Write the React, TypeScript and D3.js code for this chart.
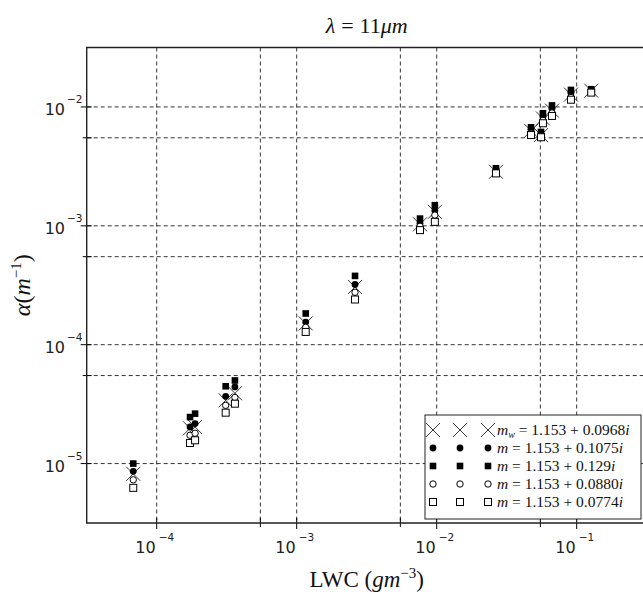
import React from 'react'
import * as d3 from 'd3'

// LWC (g m^-3) of each measurement
const lwc = [6.8e-5, 1.73e-4, 1.88e-4, 3.11e-4, 3.62e-4, 1.16e-3, 2.61e-3, 7.6e-3, 9.7e-3, 2.65e-2, 4.72e-2, 5.56e-2, 5.74e-2, 6.66e-2, 9.1e-2, 0.127]

// extinction alpha (m^-1) for each refractive index
const alphaMw = [8.2e-6, 1.98e-5, 2.03e-5, 3.4e-5, 3.9e-5, 1.51e-4, 3.06e-4, 1.03e-3, 1.31e-3, 2.85e-3, 6.3e-3, 5.8e-3, 8.0e-3, 9.3e-3, 1.27e-2, 1.37e-2]
const alpha1075 = [8.6e-6, 2.03e-5, 2.17e-5, 3.68e-5, 4.41e-5, 1.55e-4, 3.21e-4, 1.05e-3, 1.34e-3, 2.9e-3, 6.45e-3, 5.95e-3, 8.3e-3, 9.7e-3, 1.31e-2, 1.39e-2]
const alpha129 = [1.0e-5, 2.46e-5, 2.63e-5, 4.47e-5, 5.0e-5, 1.83e-4, 3.79e-4, 1.15e-3, 1.49e-3, 3.05e-3, 6.74e-3, 6.16e-3, 8.85e-3, 1.03e-2, 1.39e-2, 1.41e-2]
const alpha088 = [7.3e-6, 1.73e-5, 1.8e-5, 3.09e-5, 3.6e-5, 1.4e-4, 2.76e-4, 9.9e-4, 1.23e-3, 2.8e-3, 6.0e-3, 5.65e-3, 7.7e-3, 8.9e-3, 1.2e-2, 1.34e-2]
const alpha0774 = [6.25e-6, 1.49e-5, 1.57e-5, 2.68e-5, 3.19e-5, 1.28e-4, 2.4e-4, 9.2e-4, 1.08e-3, 2.76e-3, 5.8e-3, 5.56e-3, 7.29e-3, 8.4e-3, 1.15e-2, 1.32e-2]

const xMajor = [-4, -3, -2, -1]
const yMajor = [-5, -4, -3, -2]
const xMinor = [5.5e-4, 5.5e-3, 5.5e-2]
const yMinor = [5.5e-5, 5.5e-4, 5.5e-3]

const legendLabels = [
  { sym: 'x', sub: 'w', val: '0.0968' },
  { sym: 'dot', sub: '', val: '0.1075' },
  { sym: 'sq', sub: '', val: '0.129' },
  { sym: 'circ', sub: '', val: '0.0880' },
  { sym: 'osq', sub: '', val: '0.0774' }
]

const W = 643
const H = 594
const L = 86.7, R = 646.7, T = 47.5, B = 523

const Marker = ({ kind, x, y }: { kind: string; x: number; y: number }) => {
  if (kind === 'x') {
    const s = 7
    return (
      <g stroke="#222" strokeWidth={0.9}>
        <line x1={x - s} y1={y - s} x2={x + s} y2={y + s} />
        <line x1={x - s} y1={y + s} x2={x + s} y2={y - s} />
      </g>
    )
  }
  if (kind === 'dot') return <circle cx={x} cy={y} r={3.4} fill="#000" />
  if (kind === 'sq') return <rect x={x - 3.3} y={y - 3.3} width={6.6} height={6.6} fill="#000" />
  if (kind === 'circ') return <circle cx={x} cy={y} r={3.2} fill="#fff" stroke="#000" strokeWidth={1} />
  return <rect x={x - 3.5} y={y - 3.5} width={7} height={7} fill="#fff" stroke="#000" strokeWidth={1} />
}

const App = () => {
  const x = d3.scaleLog().domain([Math.pow(10, -4.5), Math.pow(10, -0.5)]).range([L, R])
  const y = d3.scaleLog().domain([Math.pow(10, -5.5), Math.pow(10, -1.5)]).range([B, T])

  const series = [
    { kind: 'x', vals: alphaMw },
    { kind: 'dot', vals: alpha1075 },
    { kind: 'sq', vals: alpha129 },
    { kind: 'circ', vals: alpha088 },
    { kind: 'osq', vals: alpha0774 }
  ]

  const xGrid = [...xMajor.map(e => Math.pow(10, e)), ...xMinor]
  const yGrid = [...yMajor.map(e => Math.pow(10, e)), ...yMinor]

  const serif = '"Liberation Serif", "DejaVu Serif", serif'
  const sans = '"DejaVu Sans", sans-serif'

  const lgX = 425, lgY = 415, lgW = 216, lgH = 104

  return (
    <svg width={W} height={H} style={{ position: 'absolute', left: 0, top: 0 }}>
      <rect width={W} height={H} fill="#fff" />
      {/* grid */}
      <g stroke="#000" strokeWidth={0.8} strokeDasharray="4,3">
        {xGrid.map((v, i) => (
          <line key={'gx' + i} x1={x(v)} x2={x(v)} y1={T} y2={B} />
        ))}
        {yGrid.map((v, i) => (
          <line key={'gy' + i} x1={L} x2={R} y1={y(v)} y2={y(v)} />
        ))}
      </g>
      {/* ticks */}
      <g stroke="#000" strokeWidth={1}>
        {xGrid.map((v, i) => (
          <line key={'tx' + i} x1={x(v)} x2={x(v)} y1={B - 5} y2={B + (i < 4 ? 6 : 4)} />
        ))}
        {yGrid.map((v, i) => (
          <line key={'ty' + i} x1={L - (i < 4 ? 6 : 4)} x2={L + 5} y1={y(v)} y2={y(v)} />
        ))}
      </g>
      {/* frame */}
      <path d={`M${R},${T}H${L}V${B}H${R}`} fill="none" stroke="#222" strokeWidth={1.4} />

      {/* data */}
      {series.map(s => (
        <g key={s.kind}>
          {lwc.map((v, i) => (
            <Marker key={i} kind={s.kind} x={x(v)} y={y(s.vals[i])} />
          ))}
        </g>
      ))}

      {/* x tick labels */}
      {xMajor.map(e => (
        <g key={'lx' + e} fontFamily={sans} fill="#222">
          <text x={x(Math.pow(10, e)) - 1} y={553} textAnchor="end" fontSize={16}>10</text>
          <text x={x(Math.pow(10, e)) + 2} y={541} fontSize={10.5}>{'\u2212' + -e}</text>
        </g>
      ))}
      {/* y tick labels */}
      {yMajor.map(e => (
        <g key={'ly' + e} fontFamily={sans} fill="#222">
          <text x={65} y={y(Math.pow(10, e)) + 8} textAnchor="end" fontSize={16}>10</text>
          <text x={67} y={y(Math.pow(10, e)) - 4} fontSize={10.5}>{'\u2212' + -e}</text>
        </g>
      ))}

      {/* title */}
      <text x={(L + R) / 2} y={33} textAnchor="middle" fontFamily={serif} fontSize={22} fill="#111">
        <tspan fontStyle="italic">λ</tspan>
        <tspan dx={6}>=</tspan>
        <tspan dx={6}>11</tspan>
        <tspan fontStyle="italic">μm</tspan>
      </text>
      {/* x label */}
      <text x={(L + R) / 2} y={587} textAnchor="middle" fontFamily={serif} fontSize={23} fill="#111">
        LWC (<tspan fontStyle="italic">gm</tspan>
        <tspan dy={-9} fontSize={15}>−3</tspan>
        <tspan dy={9}>)</tspan>
      </text>
      {/* y label */}
      <text transform={`translate(30,${(T + B) / 2}) rotate(-90)`} textAnchor="middle" fontFamily={serif} fontSize={24} fill="#111">
        <tspan fontStyle="italic">α</tspan>(<tspan fontStyle="italic">m</tspan>
        <tspan dy={-9} fontSize={15}>−1</tspan>
        <tspan dy={9}>)</tspan>
      </text>

      {/* legend */}
      <rect x={lgX} y={lgY} width={lgW} height={lgH} fill="#fff" stroke="#222" strokeWidth={1} />
      {legendLabels.map((d, i) => {
        const cy = 430 + i * 18
        return (
          <g key={d.sym}>
            {[433, 460, 488].map(mx => (
              <Marker key={mx} kind={d.sym} x={mx} y={cy} />
            ))}
            <text x={497} y={cy + 5} fontFamily={serif} fontSize={15.5} fill="#111">
              <tspan fontStyle="italic">m</tspan>
              {d.sub ? <tspan fontStyle="italic" fontSize={10} dy={3}>{d.sub}</tspan> : null}
              <tspan dy={d.sub ? -3 : 0}> = 1.153 + {d.val}</tspan>
              <tspan fontStyle="italic">i</tspan>
            </text>
          </g>
        )
      })}
    </svg>
  )
}

export default App
